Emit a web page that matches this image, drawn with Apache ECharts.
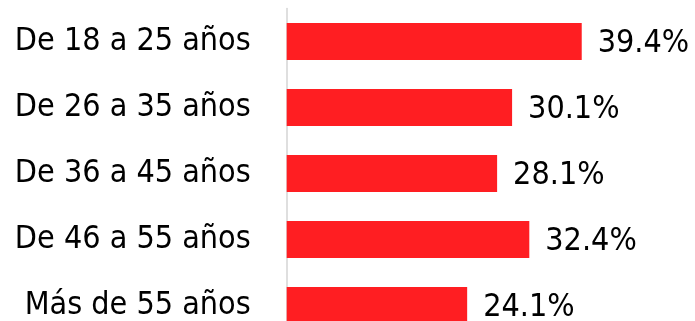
<!DOCTYPE html>
<html><head><meta charset="utf-8">
<script src="https://cdn.jsdelivr.net/npm/echarts@6/dist/echarts.min.js"></script>
<style>html,body{margin:0;padding:0;background:#fff}#c{width:695px;height:321px}</style>
</head><body><div id="c"></div>
<script>
const categories = ['De 18 a 25 años','De 26 a 35 años','De 36 a 45 años','De 46 a 55 años','Más de 55 años'];
const values = [39.4, 30.1, 28.1, 32.4, 24.1];
const FONT = '"DejaVu Sans Condensed", sans-serif';
const chart = echarts.init(document.getElementById('c'), null, {renderer:'canvas'});
chart.setOption({
  animation:false,
  grid:{left:286.7, width:374.4, top:8.6, height:330, containLabel:false, outerBoundsMode:'none'},
  xAxis:{type:'value', min:0, max:50, show:false},
  yAxis:{type:'category', data:categories, inverse:true,
    axisLine:{show:true, lineStyle:{color:'#d4d4d4', width:1.5}},
    axisTick:{show:false},
    axisLabel:{margin:36, fontFamily:FONT, fontSize:32, color:'#000'}},
  series:[{type:'bar', data:values, barWidth:37,
    itemStyle:{color:'#FF1E22'},
    label:{show:true, position:'right', distance:16, fontFamily:FONT, fontSize:32, color:'#000',
      formatter:p=>p.value.toFixed(1)+'%', offset:[0,2]}}]
});
</script></body></html>
